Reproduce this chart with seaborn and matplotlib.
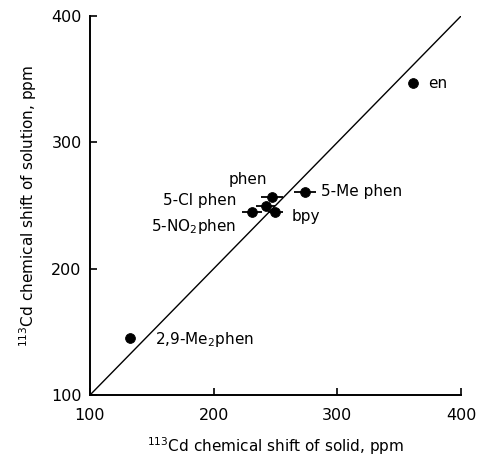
import matplotlib
matplotlib.use("Agg")
import matplotlib.pyplot as plt
import seaborn as sns
import pandas as pd

# Data
ligands = ["en", "5-Me phen", "phen", "5-Cl phen", "5-NO$_2$phen", "bpy", "2,9-Me$_2$phen"]
solid_shift = [361, 274, 247, 242, 231, 250, 132]
solution_shift = [347, 261, 257, 250, 245, 245, 145]
solid_err = [0, 9, 9, 8, 8, 6, 0]

df = pd.DataFrame({"ligand": ligands, "solid": solid_shift,
                   "solution": solution_shift, "err": solid_err})

sns.set_style("ticks", {"text.color": "black", "axes.labelcolor": "black",
                        "xtick.color": "black", "ytick.color": "black",
                        "axes.edgecolor": "black"})
plt.rcParams["font.family"] = ["DejaVu Sans"]

fig = plt.figure(figsize=(4.8, 4.59), dpi=100)
ax = fig.add_axes([0.1875, 0.1394, 0.7729, 0.8256])

# diagonal y = x
ax.plot([100, 400], [100, 400], color="black", lw=1.0, zorder=1)

eb = df[df["err"] > 0]
ax.errorbar(eb["solid"], eb["solution"], xerr=eb["err"], fmt="none",
            ecolor="black", elinewidth=1.3, capsize=0, zorder=2)
sns.scatterplot(data=df, x="solid", y="solution", ax=ax, color="black",
                s=50, edgecolor="black", zorder=3, legend=False)

# label offsets in pixels (dx, dy, ha)
offsets = {
    "en": (15, 0, "left"),
    "5-Me phen": (16, 0, "left"),
    "phen": (-24, 17, "center"),
    "5-Cl phen": (-29, 5, "right"),
    "5-NO$_2$phen": (-16, -15, "right"),
    "bpy": (16, -5, "left"),
    "2,9-Me$_2$phen": (25, -1, "left"),
}
for _, r in df.iterrows():
    dx, dy, ha = offsets[r["ligand"]]
    ax.annotate(r["ligand"], (r["solid"], r["solution"]), xytext=(dx, dy),
                textcoords="offset pixels", ha=ha, va="center", fontsize=11,
                color="black")

ax.set_xlim(100, 400)
ax.set_ylim(100, 400)
ax.set_xticks([100, 200, 300, 400])
ax.set_yticks([100, 200, 300, 400])
ax.tick_params(direction="in", length=5, width=1.2, labelsize=11.5,
               colors="black")
ax.tick_params(axis="x", pad=9)
ax.tick_params(axis="y", pad=6)
for side in ["top", "right"]:
    ax.spines[side].set_visible(False)
for side in ["left", "bottom"]:
    ax.spines[side].set_linewidth(1.4)
    ax.spines[side].set_color("black")

ax.set_xlabel("$^{113}$Cd chemical shift of solid, ppm", fontsize=11,
              labelpad=9, color="black")
ax.set_ylabel("$^{113}$Cd chemical shift of solution, ppm", fontsize=11,
              labelpad=9, color="black")

fig.savefig("out.png", dpi=100)
